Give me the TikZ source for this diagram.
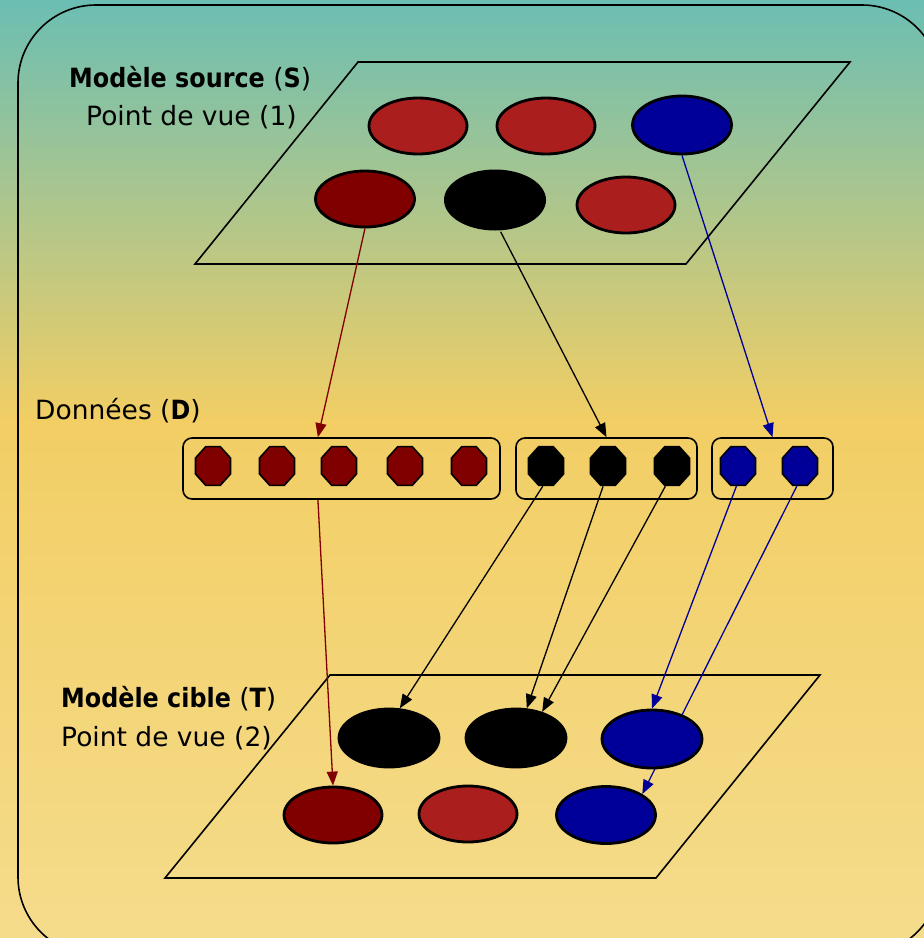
\documentclass[tikz,border=0pt]{standalone}
\usepackage{fontspec}
\setmainfont{DejaVu Sans}[BoldFeatures={FakeStretch=0.9}]
\usetikzlibrary{shapes.geometric,arrows.meta,calc}
\pgfdeclarelayer{back}
\pgfdeclarelayer{edges}
\pgfsetlayers{back,edges,main}
\definecolor{bgtop}{RGB}{107,190,179}
\definecolor{bgmid}{RGB}{242,206,100}
\definecolor{bgbot}{RGB}{245,220,140}
\definecolor{cred}{RGB}{170,30,30}
\definecolor{cdred}{RGB}{128,0,0}
\definecolor{cblue}{RGB}{0,0,153}
\tikzset{
  ell/.style={ellipse, draw=black, line width=2.8pt, minimum width=98pt, minimum height=56pt, inner sep=0pt},
  oct/.style={regular polygon, regular polygon sides=8, draw=black, line width=1.6pt, minimum size=42pt, inner sep=0pt, xscale=0.9, transform shape},
  grp/.style={draw=black, line width=1.6pt, rounded corners=9pt, inner sep=0pt},
  plane/.style={draw=black, line width=1.6pt},
  arr/.style={line width=1.3pt, -{Triangle[length=14pt,width=11pt]}},
  lab/.style={anchor=base west, inner sep=0pt, font=\fontsize{26.5}{30}\selectfont},
}
\begin{document}
\begin{tikzpicture}[x=1pt,y=-1pt]
\useasboundingbox (0,0) rectangle (924,938);
\clip (0,0) rectangle (924,938);
\begin{pgfonlayer}{back}
\shade[top color=bgtop, bottom color=bgmid] (0,0) rectangle (924,421);
\shade[top color=bgmid, bottom color=bgbot] (0,420) rectangle (924,938);
\draw[line width=1.6pt, rounded corners=78pt] (18,5) rectangle (940,955);
\draw[plane] (358,62) -- (850,62) -- (686,264) -- (195,264) -- cycle;
\draw[plane] (330,675) -- (820,675) -- (656,878) -- (165,878) -- cycle;
\end{pgfonlayer}

% source model
\node[ell, fill=cred] (s1) at (418,126) {};
\node[ell, fill=cred] (s2) at (546,126) {};
\node[ell, fill=cblue, minimum width=99pt, minimum height=58pt] (s3) at (682,125) {};
\node[ell, fill=cdred, minimum width=99pt] (s4) at (365,199) {};
\node[ell, fill=black, draw=none, minimum width=102pt, minimum height=61pt] (s5) at (495,200) {};
\node[ell, fill=cred] (s6) at (626,205) {};

% data
\node[grp, minimum width=317pt, minimum height=61pt] (b1) at (341.5,468.5) {};
\node[grp, minimum width=181pt, minimum height=61pt] (b2) at (606.5,468.5) {};
\node[grp, minimum width=121pt, minimum height=61pt] (b3) at (772.5,468.5) {};
\node[oct, fill=cdred] (d1) at (213,466) {};
\node[oct, fill=cdred] (d2) at (277,466) {};
\node[oct, fill=cdred] (d3) at (339,466) {};
\node[oct, fill=cdred] (d4) at (405,466) {};
\node[oct, fill=cdred] (d5) at (469,466) {};
\node[oct, fill=black] (d6) at (546,466) {};
\node[oct, fill=black] (d7) at (608,466) {};
\node[oct, fill=black] (d8) at (672,466) {};
\node[oct, fill=cblue] (d9) at (738,466) {};
\node[oct, fill=cblue] (d10) at (800,466) {};

% target model
\node[ell, fill=black, minimum width=100pt, minimum height=58pt] (t1) at (389,738) {};
\node[ell, fill=black, minimum width=100pt, minimum height=58pt] (t2) at (516,738) {};
\node[ell, fill=cblue, minimum width=100pt, minimum height=58pt] (t3) at (652,739) {};
\node[ell, fill=cdred] (t4) at (333,815) {};
\node[ell, fill=cred] (t5) at (468,814) {};
\node[ell, fill=cblue, minimum width=99pt, minimum height=57pt] (t6) at (606,815) {};

% connectors
\begin{pgfonlayer}{edges}
\draw[arr, cdred] (s4.south) -- ($(b1.north west)!0.426!(b1.north east)$);
\draw[arr, black] (s5.-80) -- (b2.north);
\draw[arr, cblue] (s3.south) -- (b3.north);
\draw[arr, cdred] ($(b1.south west)!0.426!(b1.south east)$) -- (t4.north);
\draw[arr, black] (d6.-100) -- (t1.70);
\draw[arr, black] (d7.-105) -- (t2.70);
\draw[arr, black] (d8.-110) -- (t2.45);
\draw[arr, cblue] (d9.-95) -- (t3.north);
\draw[arr, cblue] (d10.-100) -- (t6.30);
\end{pgfonlayer}

% labels
\node[lab] (ls1) at (69,87) {\textbf{Modèle source} (\textbf{S})};
\node[lab] (ls2) at (86,125) {Point de vue (1)};
\node[lab] (ld) at (35,419) {Données (\textbf{D})};
\node[lab] (lt1) at (61,707) {\textbf{Modèle cible} (\textbf{T})};
\node[lab] (lt2) at (61,746) {Point de vue (2)};
\end{tikzpicture}
\end{document}
